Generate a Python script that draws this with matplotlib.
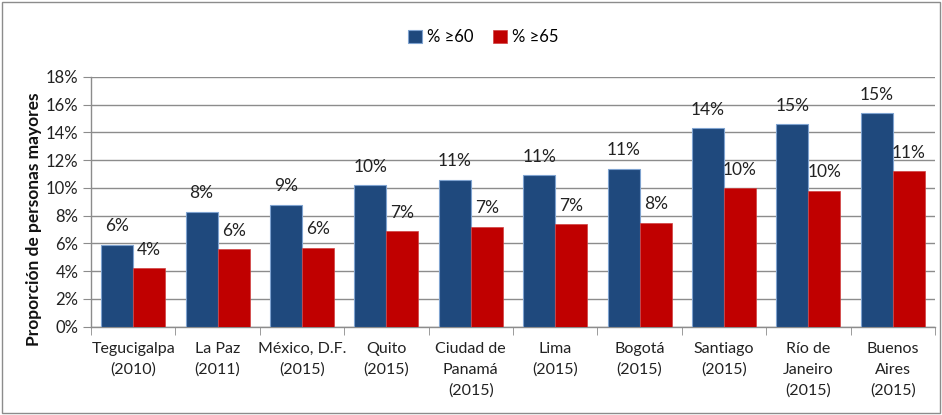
import matplotlib
matplotlib.use("Agg")
import matplotlib.pyplot as plt
import numpy as np
from matplotlib.patches import Rectangle

plt.rcParams['font.family'] = ['Lato', 'DejaVu Sans']

categories = ["Tegucigalpa\n(2010)", "La Paz\n(2011)", "México, D.F.\n(2015)", "Quito\n(2015)",
              "Ciudad de\nPanamá\n(2015)", "Lima\n(2015)", "Bogotá\n(2015)", "Santiago\n(2015)",
              "Río de\nJaneiro\n(2015)", "Buenos\nAires\n(2015)"]
pct60 = [5.9, 8.3, 8.8, 10.2, 10.6, 10.9, 11.4, 14.3, 14.6, 15.4]
pct65 = [4.2, 5.6, 5.7, 6.9, 7.2, 7.4, 7.5, 10.0, 9.8, 11.2]
series_names = ["% ≥60", "% ≥65"]
yticks = [0, 2, 4, 6, 8, 10, 12, 14, 16, 18]

fig = plt.figure(figsize=(9.42, 4.15), dpi=100)
ax = fig.add_axes([0.0966, 0.2128, 0.8960, 0.6017])

x = np.arange(len(categories))
w = 0.38
b1 = ax.bar(x - w/2, pct60, w, color="#1F497D", edgecolor="#7FA3D0", linewidth=0.8,
            label=series_names[0], zorder=3)
b2 = ax.bar(x + w/2, pct65, w, color="#C00000", edgecolor="#D04040", linewidth=0.5,
            label=series_names[1], zorder=3)

def fmt(v):
    return f"{int(np.floor(v + 0.5))}%"

for xi, v in zip(x - w/2, pct60):
    ax.annotate(fmt(v), (xi, v), xytext=(0, 7.5), textcoords="offset points",
                ha="center", va="bottom", fontsize=12.5, color="#222222", zorder=4)
for xi, v in zip(x + w/2, pct65):
    ax.annotate(fmt(v), (xi, v), xytext=(0, 7.5), textcoords="offset points",
                ha="center", va="bottom", fontsize=12.5, color="#222222", zorder=4)

ax.set_xlim(-0.5, len(categories) - 0.5)
ax.set_ylim(0, 18)
ax.set_yticks(yticks)
ax.set_yticklabels([f"{t}%" for t in yticks], fontsize=12, color="#222222")
ax.yaxis.grid(True, color="#8C8C8C", linewidth=1.0, zorder=0)
ax.set_axisbelow(True)

ax.set_xticks(x)
ax.set_xticklabels(categories, fontsize=11.5, color="#222222", linespacing=1.6)
ax.set_xticks(np.arange(len(categories) + 1) - 0.5, minor=True)
ax.tick_params(axis="x", which="major", length=0, pad=11)
ax.tick_params(axis="x", which="minor", length=6, color="#8C8C8C")
ax.tick_params(axis="y", length=6, color="#8C8C8C", pad=3)

for s in ["top", "right"]:
    ax.spines[s].set_visible(False)
for s in ["left", "bottom"]:
    ax.spines[s].set_color("#8C8C8C")
    ax.spines[s].set_linewidth(1.0)

ax.set_ylabel("Proporción de personas mayores", fontsize=12.5, fontweight="bold", color="#111111")
ax.yaxis.set_label_coords(-0.058, 0.43)

leg = fig.legend(handles=[b1, b2], labels=series_names, loc="center", bbox_to_anchor=(0.513, 0.91),
                 ncol=2, frameon=False, fontsize=12, handlelength=0.8, handleheight=0.8,
                 handletextpad=0.3, columnspacing=1.2)

fig.patches.append(Rectangle((0.002, 0.006), 0.996, 0.99, transform=fig.transFigure,
                             fill=False, edgecolor="#8C8C8C", linewidth=1.0))

fig.savefig("out.png", dpi=100)
